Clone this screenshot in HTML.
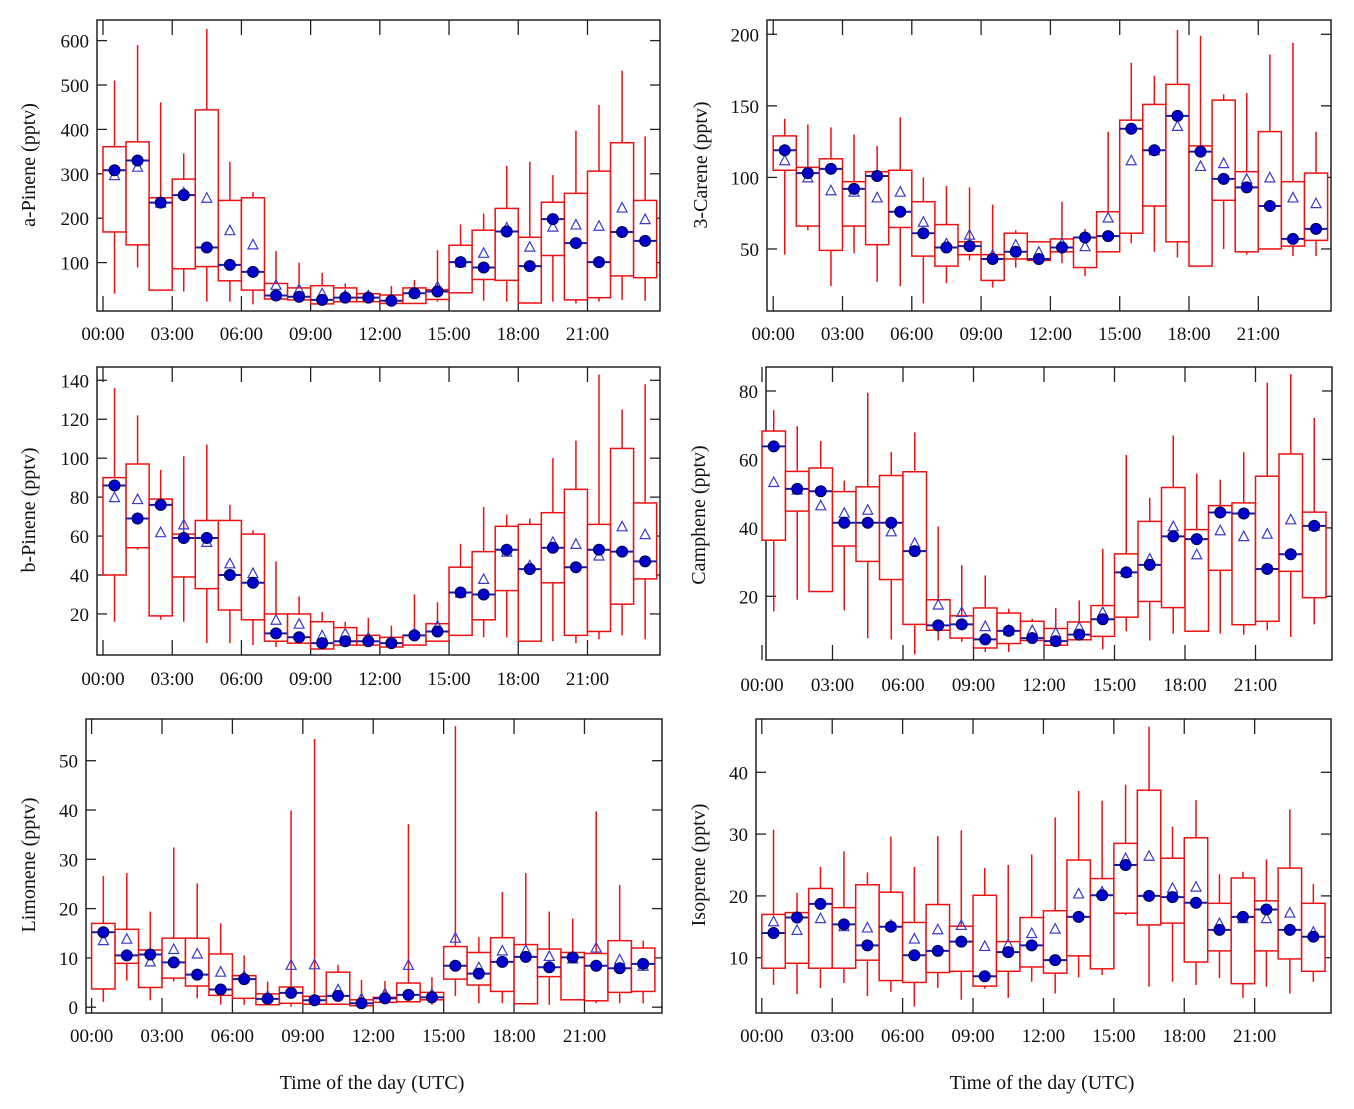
<!DOCTYPE html>
<html><head><meta charset="utf-8"><title>VOC diurnal box plots</title>
<style>
html,body{margin:0;padding:0;background:#fff;}
svg{display:block;font-family:"Liberation Serif","DejaVu Serif",serif;}
</style></head>
<body>
<svg id="fig" width="1354" height="1109" viewBox="0 0 1354 1109"></svg>
<script>
// ---------- data (hour-of-day categories) ----------
const hours = [0,1,2,3,4,5,6,7,8,9,10,11,12,13,14,15,16,17,18,19,20,21,22,23];
const xTickHours = [0,3,6,9,12,15,18,21];
const xTickLabels = ["00:00","03:00","06:00","09:00","12:00","15:00","18:00","21:00"];

// a-Pinene
const aPineneLo  = [30,89,38,35,12,12,6,14,14,5,11,11,5,8,12,32,14,12,9,12,8,12,16,14];
const aPineneQ1  = [169,140,38,86,91,59,38,18,16,7,12,12,8,8,17,32,62,60,9,116,16,21,70,66];
const aPineneQ3  = [361,372,246,288,444,240,246,53,43,48,43,30,27,43,39,139,173,222,157,236,256,306,370,240];
const aPineneHi  = [510,590,461,346,626,327,259,126,100,77,53,35,47,61,128,186,210,318,327,297,397,455,532,384];
const aPineneMed = [308,330,235,252,134,95,79,26,23,16,21,21,14,31,35,101,89,170,92,198,144,101,169,149];
const aPineneMean= [297,316,235,258,246,173,141,50,40,31,27,26,18,33,46,101,122,179,136,181,186,183,224,198];

// 3-Carene
const careneLo  = [46,63,24,47,27,24,12,26,42,23,37,39,40,31,48,54,48,44,38,50,46,50,45,45];
const careneQ1  = [105,66,49,66,53,65,45,38,46,28,43,42,48,37,48,61,80,55,38,84,48,50,52,56];
const careneQ3  = [129,107,113,97,104,105,83,67,55,46,61,55,57,58,76,140,151,165,122,154,104,132,97,103];
const careneHi  = [141,137,135,130,122,142,100,94,93,81,63,55,83,64,132,180,171,203,199,158,159,186,194,132];
const careneMed = [119,103,106,92,101,76,61,51,52,43,48,43,51,58,59,134,119,143,118,99,93,80,57,64];
const careneMean= [112,100,91,90,86,90,69,54,60,46,53,48,54,52,72,112,119,136,108,110,99,100,86,82];

// b-Pinene
const bPineneLo  = [16,53,17,16,5,5,4,3,5,2,3,4,3,4,6,9,8,8,6,6,5,7,9,7];
const bPineneQ1  = [40,54,19,39,33,22,17,6,5,2,4,4,3,4,6,9,17,32,6,36,9,11,25,38];
const bPineneQ3  = [90,97,79,61,68,68,61,20,20,16,13,9,8,9,15,44,52,65,66,72,84,66,105,77];
const bPineneHi  = [136,122,94,101,107,76,63,47,29,21,16,18,14,30,26,56,75,71,69,100,109,143,125,138];
const bPineneMed = [86,69,76,59,59,40,36,10,8,5,6,6,5,9,11,31,30,53,43,54,44,53,52,47];
const bPineneMean= [80,79,62,66,57,46,41,17,15,9,10,8,6,10,14,31,38,52,45,57,56,50,65,61];

// Camphene
const camphLo  = [15.6,19.0,21.4,15.9,7.8,7.4,3.0,7.1,6.7,3.7,3.7,6.4,5.2,7.3,4.5,9.8,7.1,9.1,9.8,9.1,8.8,10.1,8.1,11.8];
const camphQ1  = [36.4,44.9,21.4,34.7,30.2,24.9,11.8,10.1,7.8,4.9,6.2,7.1,5.7,7.3,8.3,13.9,18.5,16.7,9.8,27.6,11.7,12.7,27.3,19.6];
const camphQ3  = [68.3,56.5,57.5,50.6,52.0,55.3,56.4,19.0,14.3,16.6,15.1,12.7,10.6,12.5,17.3,32.4,41.9,51.8,39.5,46.5,47.3,55.1,61.6,44.6];
const camphHi  = [74.4,69.7,65.4,53.8,79.5,62.2,67.9,40.4,29.1,26.1,16.4,13.5,16.6,18.8,33.9,61.3,48.8,67.0,55.9,54.1,62.1,82.4,84.9,72.1];
const camphMed = [63.8,51.4,50.7,41.5,41.5,41.5,33.2,11.5,11.8,7.4,9.9,7.8,6.9,8.8,13.3,27.0,29.2,37.5,36.7,44.5,44.2,28.0,32.3,40.6];
const camphMean= [53.4,51.2,46.6,44.4,45.3,39.0,35.6,17.6,15.4,11.3,10.1,10.1,9.4,11.0,15.4,27.1,31.0,40.5,32.3,39.3,37.6,38.3,42.5,40.7];

// Limonene
const limoLo  = [1.1,5.4,1.4,5.2,1.8,0.5,0.5,0.5,0.1,0.6,0.6,0.3,1.0,1.1,0.5,2.3,0.8,0.8,0.7,0.5,1.5,0.8,0.8,0.8];
const limoQ1  = [3.7,8.9,4.0,5.9,4.3,2.4,1.8,0.5,0.8,0.6,0.6,0.3,1.0,1.1,1.5,5.7,4.5,3.2,0.7,6.2,1.5,1.3,3.0,3.2];
const limoQ3  = [17.0,15.8,11.6,14.0,14.0,10.8,6.4,2.7,4.1,2.2,7.1,1.5,2.0,4.9,3.0,12.3,11.1,14.1,12.7,11.8,11.1,10.9,13.5,12.0];
const limoHi  = [26.6,27.2,19.4,32.4,25.1,17.0,10.5,5.2,39.9,54.4,8.6,5.5,5.3,37.1,6.1,57.0,14.2,23.4,27.2,19.4,18.0,39.7,24.8,13.5];
const limoMed = [15.2,10.5,10.7,9.1,6.6,3.6,5.7,1.7,2.9,1.4,2.3,0.8,1.8,2.5,2.0,8.4,6.8,9.2,10.2,8.1,10.1,8.4,7.9,8.8];
const limoMean= [13.6,13.9,9.3,11.8,10.9,7.2,6.4,2.3,8.6,8.7,3.6,1.8,2.8,8.6,2.7,14.1,8.1,11.5,11.6,10.4,9.9,12.1,9.7,8.4];

// Isoprene
const isoLo  = [5.6,4.1,5.1,5.9,3.8,4.5,2.1,5.1,3.2,5.0,3.5,6.1,4.2,6.8,7.2,16.9,5.3,6.1,5.6,6.7,3.5,5.3,4.2,6.1];
const isoQ1  = [8.3,9.1,8.3,8.3,9.6,6.3,6.0,7.6,7.8,5.4,7.8,8.5,7.5,10.3,8.2,17.2,15.3,15.6,9.3,11.1,5.8,11.1,9.8,7.8];
const isoQ3  = [17.0,17.3,21.2,18.1,21.8,20.6,15.7,18.6,15.1,20.1,12.6,16.5,17.6,25.8,22.8,28.5,37.1,26.1,29.4,18.8,22.9,19.2,24.5,18.8];
const isoHi  = [30.7,20.5,24.7,27.2,23.8,29.6,24.7,29.7,30.6,24.5,25.0,26.7,32.7,37.0,35.4,38.0,47.4,31.2,35.5,23.5,23.9,25.9,34.0,21.9];
const isoMed = [14.0,16.5,18.7,15.4,12.0,15.0,10.4,11.1,12.6,7.0,10.9,12.0,9.6,16.6,20.1,25.0,20.0,19.8,18.9,14.5,16.6,17.8,14.5,13.4];
const isoMean= [15.9,14.5,16.4,15.1,14.9,15.3,13.1,14.6,15.3,11.9,12.2,14.0,14.7,20.4,20.7,26.1,26.5,21.3,21.5,15.6,16.4,16.4,17.3,14.2];

// y-axis tick values
const aPineneTicks = [100,200,300,400,500,600];
const careneTicks  = [50,100,150,200];
const bPineneTicks = [20,40,60,80,100,120,140];
const camphTicks   = [20,40,60,80];
const limoTicks    = [0,10,20,30,40,50];
const isoTicks     = [10,20,30,40];

// ---------- layout (geometry only) ----------
const panels = [
 {key:'a-pinene', title:'a-Pinene (pptv)', L:97, R:660, T:20, B:311, x0:103, hw:23.07, yRef:40.6, vRef:600, k:0.444, titleX:28, titleY:165, xLabY:340,
  lo:aPineneLo,q1:aPineneQ1,q3:aPineneQ3,hi:aPineneHi,med:aPineneMed,mean:aPineneMean,ticks:aPineneTicks},
 {key:'3-carene', title:'3-Carene (pptv)', L:767, R:1331, T:20, B:311, x0:773.2, hw:23.1, yRef:34.3, vRef:200, k:1.431, titleX:700, titleY:165, xLabY:340,
  lo:careneLo,q1:careneQ1,q3:careneQ3,hi:careneHi,med:careneMed,mean:careneMean,ticks:careneTicks},
 {key:'b-pinene', title:'b-Pinene (pptv)', L:97, R:660, T:367, B:655, x0:103, hw:23.07, yRef:380.3, vRef:140, k:1.947, titleX:28, titleY:510, xLabY:685,
  lo:bPineneLo,q1:bPineneQ1,q3:bPineneQ3,hi:bPineneHi,med:bPineneMed,mean:bPineneMean,ticks:bPineneTicks},
 {key:'camphene', title:'Camphene (pptv)', L:766, R:1332, T:367, B:660, x0:762, hw:23.5, yRef:391, vRef:80, k:3.422, titleX:698, titleY:515, xLabY:691,
  lo:camphLo,q1:camphQ1,q3:camphQ3,hi:camphHi,med:camphMed,mean:camphMean,ticks:camphTicks},
 {key:'limonene', title:'Limonene (pptv)', L:86, R:662, T:719, B:1013, x0:91.6, hw:23.47, yRef:760.7, vRef:50, k:4.93, titleX:28, titleY:865, xLabY:1042,
  lo:limoLo,q1:limoQ1,q3:limoQ3,hi:limoHi,med:limoMed,mean:limoMean,ticks:limoTicks},
 {key:'isoprene', title:'Isoprene (pptv)', L:756, R:1331, T:719, B:1013, x0:761.8, hw:23.47, yRef:772.3, vRef:40, k:6.18, titleX:698, titleY:865, xLabY:1042,
  lo:isoLo,q1:isoQ1,q3:isoQ3,hi:isoHi,med:isoMed,mean:isoMean,ticks:isoTicks}
];

const NS = 'http://www.w3.org/2000/svg';
const svg = document.getElementById('fig');
function mk(tag, attrs, parent){
  const e = document.createElementNS(NS, tag);
  for (const a in attrs) e.setAttribute(a, attrs[a]);
  parent.appendChild(e);
  return e;
}

panels.forEach(p => {
  const xS = h => p.x0 + h * p.hw;
  const yS = v => p.yRef + (p.vRef - v) * p.k;
  const g = mk('g', {}, svg);
  
  

  // frame
  const fr = mk('rect', {x:p.L, y:p.T, width:p.R-p.L, height:p.B-p.T, fill:'none', stroke:'#222', 'stroke-width':1.5}, g);
  
  

  // y ticks + labels
  p.ticks.forEach(t => {
    const y = yS(t);
    const tl = mk('line', {x1:p.L, x2:p.L+10, y1:y, y2:y, stroke:'#222', 'stroke-width':1.3}, g);
    
    
    const tr = mk('line', {x1:p.R-10, x2:p.R, y1:y, y2:y, stroke:'#222', 'stroke-width':1.3}, g);
    
    
    const lb = mk('text', {x:p.L-8, y:y+7, 'text-anchor':'end', 'font-size':19, fill:'#111'}, g);
    lb.textContent = t;
    
    
  });

  // x ticks + labels
  xTickHours.forEach((h, i) => {
    const x = xS(h);
    const tb = mk('line', {x1:x, x2:x, y1:p.B, y2:p.B-15, stroke:'#222', 'stroke-width':1.3}, g);
    
    
    const tt = mk('line', {x1:x, x2:x, y1:p.T, y2:p.T+15, stroke:'#222', 'stroke-width':1.3}, g);
    
    
    const lb = mk('text', {x:x, y:p.xLabY, 'text-anchor':'middle', 'font-size':19, fill:'#111'}, g);
    lb.textContent = xTickLabels[i];
    
    
  });

  // y title
  const yt = mk('text', {x:p.titleX, y:p.titleY, 'text-anchor':'middle', 'font-size':20, fill:'#111',
     transform:'rotate(-90 ' + p.titleX + ' ' + p.titleY + ')', dy:'0.35em'}, g);
  yt.textContent = p.title;
  
  

  // boxes
  hours.forEach((h, i) => {
    const xl = xS(h), xr = xS(h + 1), xc = xS(h + 0.5);
    const bg = mk('g', {}, g);
    
    
    const w = mk('line', {x1:xc, x2:xc, y1:yS(p.lo[i]), y2:yS(p.hi[i]), stroke:'#ee1111', 'stroke-width':1.5}, bg);
    
    
    const yq3 = yS(p.q3[i]), yq1 = yS(p.q1[i]);
    const r = mk('rect', {x:xl, y:yq3, width:xr-xl, height:Math.max(1, yq1-yq3), fill:'#fff', stroke:'#ee1111', 'stroke-width':1.5}, bg);
    
    
    const ym = yS(p.med[i]);
    const ml = mk('line', {x1:xl, x2:xr, y1:ym, y2:ym, stroke:'#1a1aa0', 'stroke-width':2}, bg);
    
    
    const ya = yS(p.mean[i]);
    const tri = mk('polygon', {points:(xc-5)+','+(ya+4.5)+' '+(xc+5)+','+(ya+4.5)+' '+xc+','+(ya-5), fill:'none', stroke:'#3a3acc', 'stroke-width':1.2}, bg);
    
    
    const c = mk('circle', {cx:xc, cy:ym, r:5.5, fill:'#0000cc', stroke:'#000050', 'stroke-width':1}, bg);
    
    
  });
});

// x-axis titles
[[372,'x-axis-title-left'],[1042,'x-axis-title-right']].forEach(a => {
  const t = mk('text', {x:a[0], y:1089, 'text-anchor':'middle', 'font-size':20, fill:'#111'}, svg);
  t.textContent = 'Time of the day (UTC)';
  
  
});
</script>
</body></html>
